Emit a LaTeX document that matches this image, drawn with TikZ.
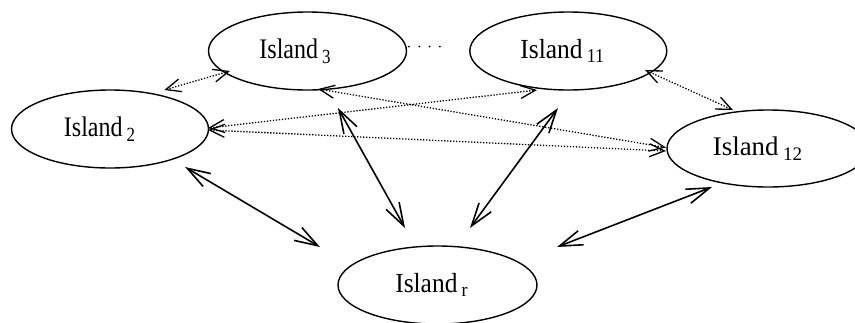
\documentclass[tikz,border=0pt]{standalone}
\usepackage{fontspec}
\setmainfont{Liberation Serif}
\usetikzlibrary{arrows.meta,calc,shapes.geometric}
\newcommand{\isl}[4]{\scalebox{#1}[#2]{Island\raisebox{-4pt}{\fontsize{17}{17}\selectfont\kern4pt #3}}\hspace*{#4}}
\begin{document}
\begin{tikzpicture}[x=1pt,y=-1pt,
  isle/.style={ellipse, draw, line width=1.4pt, inner sep=0pt, font=\fontsize{24}{24}\selectfont},
  dotarrow/.style={line width=1.3pt, dash pattern=on 1.3pt off 1.7pt,
    {Straight Barb[length=15pt,width=13pt,line width=1.3pt]}-{Straight Barb[length=15pt,width=13pt,line width=1.3pt]}},
  solidarrow/.style={line width=1.6pt,
    {Straight Barb[length=23pt,width=15pt,line width=1.6pt]}-{Straight Barb[length=23pt,width=15pt,line width=1.6pt]}}]
\useasboundingbox (0,0) rectangle (855,322);
\node[isle, minimum width=197pt, minimum height=78pt] (I2) at (110,129) {\isl{1}{1.18}{2}{21pt}};
\node[isle, minimum width=198pt, minimum height=78pt] (I3) at (307.5,51) {\isl{1}{1.18}{3}{25pt}};
\node[isle, minimum width=197pt, minimum height=78pt] (I11) at (568.3,51) {\isl{1.06}{1.15}{11}{12pt}};
\node[isle, minimum width=202pt, minimum height=77pt] (I12) at (768,148.5) {\isl{1.12}{1.12}{12}{21pt}};
\node[isle, minimum width=199pt, minimum height=78pt] (Ir) at (437.5,285) {\isl{1.06}{1.15}{r}{12pt}};
% ellipsis dots between Island3 and Island11
\draw[line width=2pt, line cap=round, dash pattern=on 0pt off 10.3pt]
  ($(I3.center)+(101.5,-4.5)$) -- ($(I11.center)+(-127.3,-4.5)$);
% dotted connectors
\draw[dotarrow] ($(I2.center)+(54.3,-39)$) -- ($(I3.center)+(-77.5,20)$);
\draw[dotarrow] ($(I2.center)+(98,-1)$) -- ($(I11.center)+(-31.3,39)$);
\draw[dotarrow] ($(I2.center)+(98,1)$) -- ($(I12.center)+(-102,2.5)$);
\draw[dotarrow] ($(I3.center)+(10.5,38)$) -- ($(I12.center)+(-102,-1)$);
\draw[dotarrow] ($(I11.center)+(76.7,19)$) -- ($(I12.center)+(-35,-38.5)$);
% solid connectors
\draw[solidarrow] ($(I2.center)+(75,38)$) -- ($(Ir.center)+(-117.5,-38)$);
\draw[solidarrow] ($(I3.center)+(30.5,57)$) -- ($(Ir.center)+(-32.5,-57)$);
\draw[solidarrow] ($(I11.center)+(-10.3,57)$) -- ($(Ir.center)+(32.5,-57)$);
\draw[solidarrow] ($(I12.center)+(-56,38.5)$) -- ($(Ir.center)+(119.5,-38)$);
\end{tikzpicture}
\end{document}
